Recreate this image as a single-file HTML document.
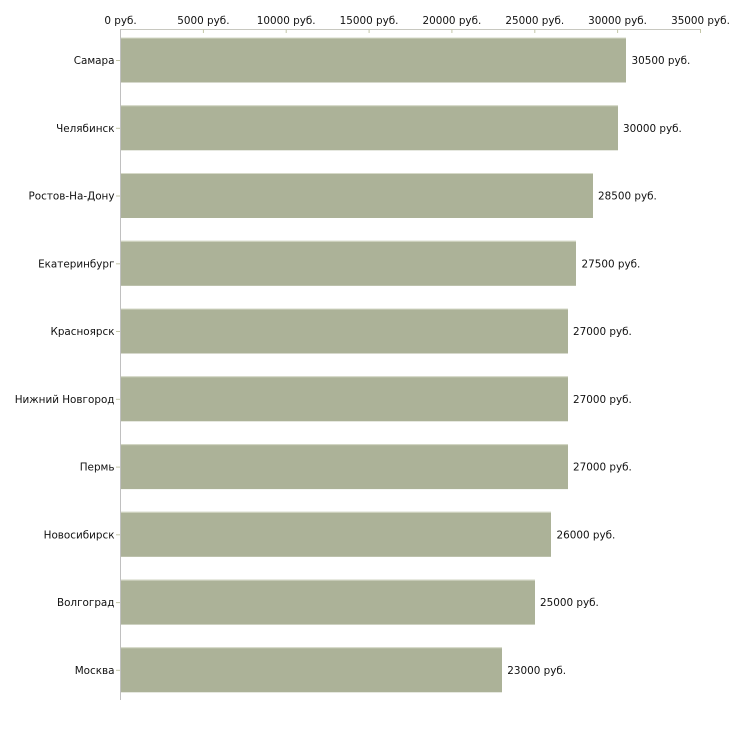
<!DOCTYPE html>
<html><head><meta charset="utf-8">
<style>
html,body{margin:0;padding:0;background:#fff;}
svg{display:block;}
text{font-family:"DejaVu Sans","Liberation Sans",sans-serif;font-size:10.4px;fill:#111;}
</style></head>
<body>
<svg width="730" height="730" viewBox="0 0 730 730" xmlns="http://www.w3.org/2000/svg">
<!-- top axis -->
<line x1="120.5" y1="29.5" x2="700.5" y2="29.5" stroke="#c8c8c0" stroke-width="1"/>
<g stroke="#c3c6a8" stroke-width="1">
<line x1="120.5" y1="29" x2="120.5" y2="33"/>
<line x1="203.4" y1="29" x2="203.4" y2="33"/>
<line x1="286.2" y1="29" x2="286.2" y2="33"/>
<line x1="369.1" y1="29" x2="369.1" y2="33"/>
<line x1="451.9" y1="29" x2="451.9" y2="33"/>
<line x1="534.8" y1="29" x2="534.8" y2="33"/>
<line x1="617.6" y1="29" x2="617.6" y2="33"/>
<line x1="700.5" y1="29" x2="700.5" y2="33"/>
</g>
<g text-anchor="middle">
<text x="120.5" y="24">0 руб.</text>
<text x="203.4" y="24">5000 руб.</text>
<text x="286.2" y="24">10000 руб.</text>
<text x="369.1" y="24">15000 руб.</text>
<text x="451.9" y="24">20000 руб.</text>
<text x="534.8" y="24">25000 руб.</text>
<text x="617.6" y="24">30000 руб.</text>
<text x="700.5" y="24">35000 руб.</text>
</g>
<!-- bars -->
<g fill="#acb298">
<rect x="121" y="37.5" width="505" height="45"/>
<rect x="121" y="105.3" width="497" height="45"/>
<rect x="121" y="173" width="472" height="45"/>
<rect x="121" y="240.8" width="455" height="45"/>
<rect x="121" y="308.5" width="447" height="45"/>
<rect x="121" y="376.3" width="447" height="45"/>
<rect x="121" y="444.1" width="447" height="45"/>
<rect x="121" y="511.8" width="430" height="45"/>
<rect x="121" y="579.6" width="414" height="45"/>
<rect x="121" y="647.3" width="381" height="45"/>
</g>
<g stroke="#d6d9c8" stroke-width="1" fill="none">
<line x1="121" y1="38" x2="626" y2="38"/>
<line x1="121" y1="105.8" x2="618" y2="105.8"/>
<line x1="121" y1="173.5" x2="593" y2="173.5"/>
<line x1="121" y1="241.3" x2="576" y2="241.3"/>
<line x1="121" y1="309" x2="568" y2="309"/>
<line x1="121" y1="376.8" x2="568" y2="376.8"/>
<line x1="121" y1="444.6" x2="568" y2="444.6"/>
<line x1="121" y1="512.3" x2="551" y2="512.3"/>
<line x1="121" y1="580.1" x2="535" y2="580.1"/>
<line x1="121" y1="647.8" x2="502" y2="647.8"/>
</g>
<!-- left axis -->
<line x1="120.5" y1="29" x2="120.5" y2="700" stroke="#c0c0c0" stroke-width="1"/>
<g stroke="#c3c6a8" stroke-width="1">
<line x1="116" y1="60.5" x2="120" y2="60.5"/>
<line x1="116" y1="128.3" x2="120" y2="128.3"/>
<line x1="116" y1="196" x2="120" y2="196"/>
<line x1="116" y1="263.8" x2="120" y2="263.8"/>
<line x1="116" y1="331.5" x2="120" y2="331.5"/>
<line x1="116" y1="399.3" x2="120" y2="399.3"/>
<line x1="116" y1="467.1" x2="120" y2="467.1"/>
<line x1="116" y1="534.8" x2="120" y2="534.8"/>
<line x1="116" y1="602.6" x2="120" y2="602.6"/>
<line x1="116" y1="670.3" x2="120" y2="670.3"/>
</g>
<g text-anchor="end">
<text x="114.5" y="64">Самара</text>
<text x="114.5" y="131.8">Челябинск</text>
<text x="114.5" y="199.5">Ростов-На-Дону</text>
<text x="114.5" y="267.3">Екатеринбург</text>
<text x="114.5" y="335">Красноярск</text>
<text x="114.5" y="402.8">Нижний Новгород</text>
<text x="114.5" y="470.6">Пермь</text>
<text x="114.5" y="538.3">Новосибирск</text>
<text x="114.5" y="606.1">Волгоград</text>
<text x="114.5" y="673.8">Москва</text>
</g>
<g>
<text x="631.5" y="64">30500 руб.</text>
<text x="623" y="131.8">30000 руб.</text>
<text x="598" y="199.5">28500 руб.</text>
<text x="581.5" y="267.3">27500 руб.</text>
<text x="573" y="335">27000 руб.</text>
<text x="573" y="402.8">27000 руб.</text>
<text x="573" y="470.6">27000 руб.</text>
<text x="556.5" y="538.3">26000 руб.</text>
<text x="540" y="606.1">25000 руб.</text>
<text x="507.3" y="673.8">23000 руб.</text>
</g>
</svg>
</body></html>
